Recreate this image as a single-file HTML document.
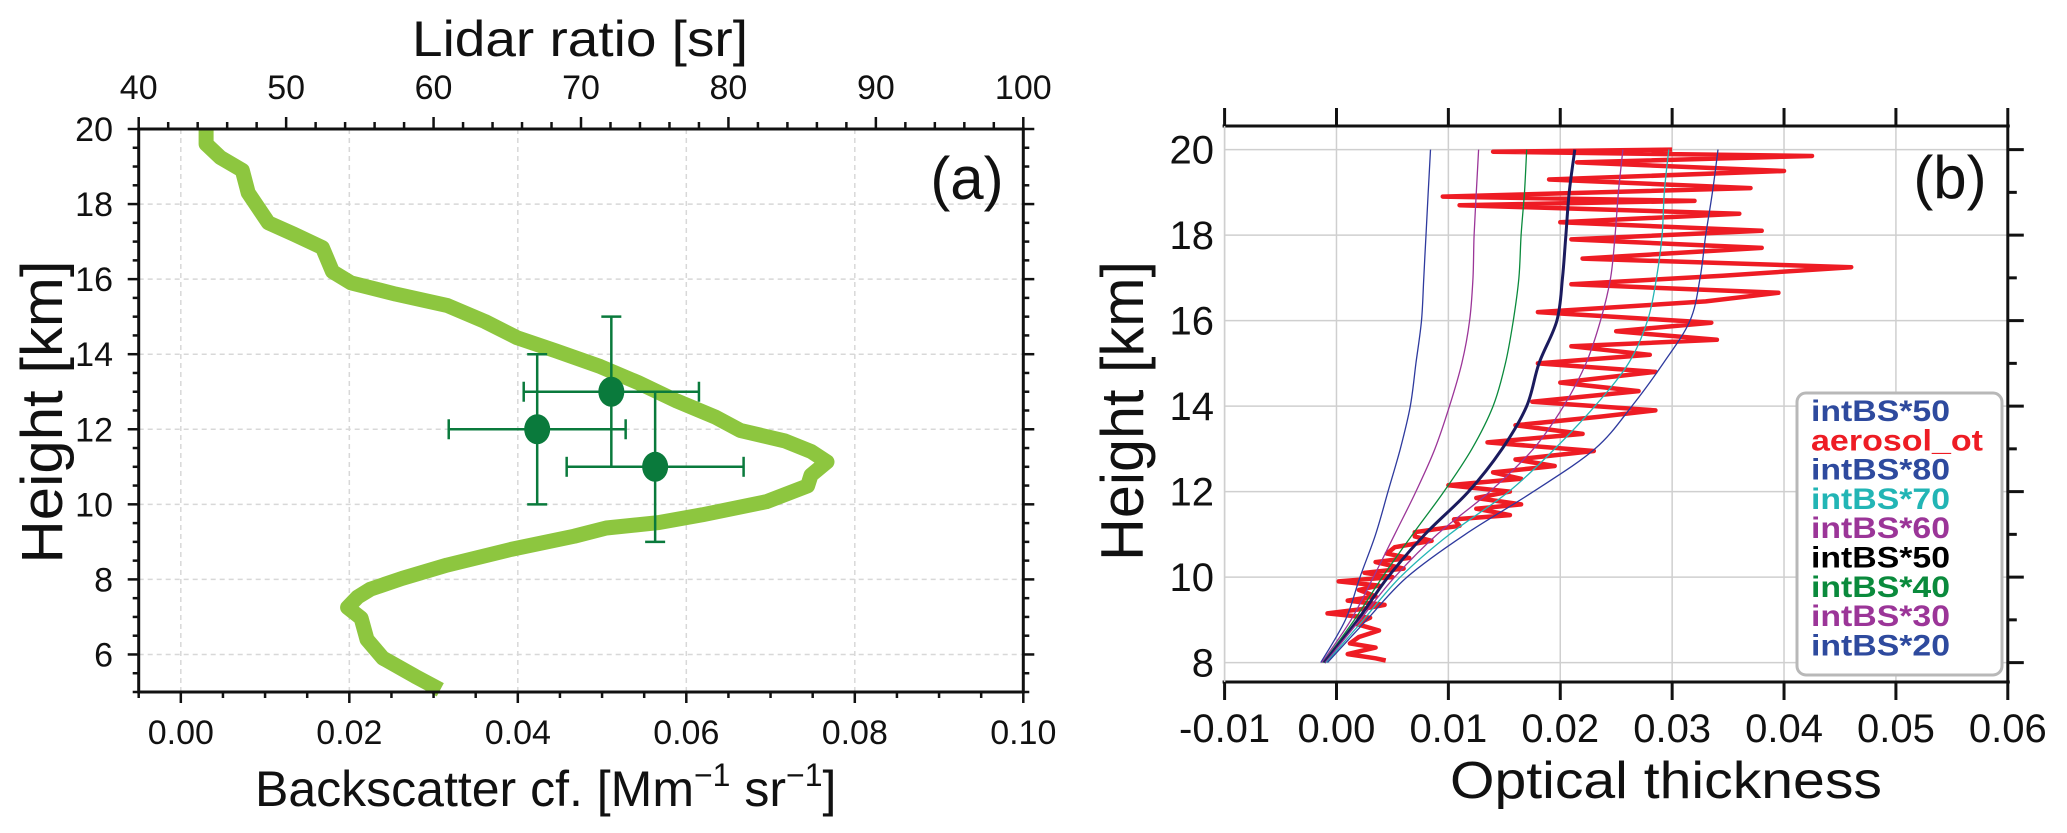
<!DOCTYPE html>
<html><head><meta charset="utf-8">
<style>
html,body{margin:0;padding:0;background:#fff;}
svg{display:block;font-family:"Liberation Sans","DejaVu Sans",sans-serif;}
</style></head>
<body>
<svg id="fig" width="2067" height="833" viewBox="0 0 2067 833" xmlns="http://www.w3.org/2000/svg">
<g id="pa"></g>
<g id="pb"></g>
</svg>
<script>
// ---------- Panel (a) data ----------
const aBsc = [0.003,0.003,0.0047,0.0073,0.008,0.0092,0.0104,0.0134,0.0168,0.018,0.0202,0.0255,0.0316,0.0361,0.0399,0.0445,0.0498,0.0543,0.0589,0.0634,0.0664,0.0717,0.0748,0.0767,0.0748,0.0744,0.0695,0.0619,0.0566,0.0505,0.0467,0.0392,0.0316,0.0263,0.0225,0.021,0.0198,0.0214,0.0221,0.024,0.0278,0.0308];
const aHgt = [20,19.6,19.24,18.9,18.3,17.9,17.5,17.2,16.84,16.2,15.9,15.6,15.3,14.87,14.44,14.09,13.67,13.24,12.75,12.33,11.97,11.69,11.41,11.13,10.78,10.49,10.07,9.72,9.51,9.37,9.15,8.8,8.38,8.03,7.74,7.53,7.25,6.97,6.4,5.9,5.42,5.06];
const ptX = [0.0423,0.0511,0.0563];
const ptY = [12,13,11];
const ptXerr = [0.0105,0.0104,0.0105];
const ptYerr = [2,2,2];
const aXTicks = [0,0.02,0.04,0.06,0.08,0.10];
const aXTickLabels = ["0.00","0.02","0.04","0.06","0.08","0.10"];
const aYTicks = [6,8,10,12,14,16,18,20];
const aTopTicks = [40,50,60,70,80,90,100];

// ---------- Panel (b) data ----------
const bH = [8,9,10,11,12,13,14,15,16,17,18,19,20];
const bs20 = [-0.0014,0.0008,0.0021,0.0035,0.0046,0.0057,0.0066,0.0071,0.0076,0.0078,0.008,0.0082,0.0084];
const bs30 = [-0.0013,0.0013,0.0033,0.0052,0.0071,0.0088,0.0101,0.0112,0.0119,0.0122,0.0123,0.0125,0.0127];
const bs40 = [-0.0012,0.0016,0.0041,0.0068,0.0096,0.0121,0.014,0.0151,0.0158,0.0163,0.0165,0.0168,0.017];
const bs50 = [-0.0011,0.0019,0.0046,0.0079,0.0118,0.0148,0.017,0.0181,0.0197,0.0202,0.0205,0.0208,0.0213];
const bs60 = [-0.001,0.0021,0.0052,0.009,0.0137,0.0176,0.0203,0.0223,0.0236,0.0245,0.0249,0.0252,0.0256];
const bs70 = [-0.0009,0.0024,0.0057,0.0101,0.0154,0.0195,0.0231,0.0261,0.0278,0.0286,0.0291,0.0293,0.0297];
const bs80 = [-0.0008,0.0027,0.0063,0.0115,0.0176,0.0231,0.0264,0.0292,0.0316,0.0325,0.033,0.0336,0.0341];
const redH = [8.05,8.1,8.2,8.35,8.45,8.6,8.75,8.9,9.05,9.15,9.25,9.35,9.45,9.55,9.7,9.8,9.9,10.0,10.1,10.2,10.35,10.45,10.55,10.7,10.85,10.95,11.05,11.2,11.35,11.45,11.6,11.7,11.85,12.0,12.15,12.3,12.45,12.6,12.75,12.95,13.15,13.35,13.55,13.75,13.9,14.1,14.35,14.55,14.8,15.0,15.2,15.4,15.55,15.75,15.95,16.2,16.45,16.65,16.85,17.05,17.25,17.45,17.7,17.9,18.1,18.3,18.5,18.7,18.8,18.9,19.1,19.3,19.5,19.7,19.85,19.95,20.0];
const redV = [0.0044,0.0035,0.001,0.0035,0.0012,0.002,0.0038,0.0018,0.003,-0.0008,0.0022,0.0043,0.001,0.0035,0.002,0.0038,0.0002,0.005,0.0025,0.006,0.0035,0.0065,0.0045,0.0052,0.0085,0.007,0.007,0.011,0.0105,0.0155,0.0125,0.0165,0.0125,0.0155,0.01,0.0165,0.014,0.0195,0.016,0.023,0.0135,0.022,0.016,0.0235,0.0285,0.0175,0.027,0.02,0.0285,0.018,0.028,0.021,0.034,0.025,0.0335,0.018,0.033,0.0395,0.021,0.0345,0.046,0.022,0.038,0.021,0.038,0.02,0.036,0.011,0.032,0.0095,0.037,0.019,0.04,0.0215,0.0425,0.014,0.03];
const bXTicks = [-0.01,0,0.01,0.02,0.03,0.04,0.05,0.06];
const bXTickLabels = ["-0.01","0.00","0.01","0.02","0.03","0.04","0.05","0.06"];
const bYTicks = [8,10,12,14,16,18,20];
const legLabels = ["intBS*50","aerosol_ot","intBS*80","intBS*70","intBS*60","intBS*50","intBS*40","intBS*30","intBS*20"];
const legColors = ["#2e4a9e","#ee1c24","#2e4a9e","#22b5b5","#9b3598","#000000","#0a8a3c","#9b3598","#2e4a9e"];

const NS = "http://www.w3.org/2000/svg";
function mk(parent, tag, attrs, text){
  const e = document.createElementNS(NS, tag);
  for (const k in attrs) e.setAttribute(k, attrs[k]);
  if (text !== undefined) e.textContent = text;
  parent.appendChild(e);
  return e;
}

// ===== Panel A =====
const pa = document.getElementById('pa');
const aL=138.7, aR=1023.3, aT=129, aB=692;
const ax = v => aL + (v - (-0.005)) / (0.105) * (aR - aL);
const ay = h => aB - (h - 5) / 15 * (aB - aT);
const ax2 = s => aL + (s - 40) / 60 * (aR - aL);

// grid
aXTicks.forEach(v=>{ const l=mk(pa,'line',{x1:ax(v),x2:ax(v),y1:aT,y2:aB,stroke:'#d8d8d8','stroke-width':1.5,'stroke-dasharray':'5,4'});
 });
aYTicks.forEach(h=>{ const l=mk(pa,'line',{x1:aL,x2:aR,y1:ay(h),y2:ay(h),stroke:'#d8d8d8','stroke-width':1.5,'stroke-dasharray':'5,4'});
 });

// curve
{
  let d = aBsc.map((v,i)=>(i?'L':'M')+ax(v).toFixed(1)+','+ay(aHgt[i]).toFixed(1)).join(' ');
  const p = mk(pa,'path',{d:d,fill:'none',stroke:'#8dc63f','stroke-width':15,'stroke-linejoin':'round','stroke-linecap':'butt'});
  
  
}
// error points
ptX.forEach((v,i)=>{
  const g = mk(pa,'g',{stroke:'#0a7a3c','stroke-width':2.5,fill:'#0a7a3c'});
  
  
  const cx=ax(v), cy=ay(ptY[i]);
  const x1=ax(v-ptXerr[i]), x2=ax(v+ptXerr[i]);
  const y1=ay(ptY[i]-ptYerr[i]), y2=ay(ptY[i]+ptYerr[i]);
  mk(g,'line',{x1:x1,x2:x2,y1:cy,y2:cy});
  mk(g,'line',{x1:x1,x2:x1,y1:cy-10,y2:cy+10});
  mk(g,'line',{x1:x2,x2:x2,y1:cy-10,y2:cy+10});
  mk(g,'line',{x1:cx,x2:cx,y1:y1,y2:y2});
  mk(g,'line',{x1:cx-10,x2:cx+10,y1:y1,y2:y1});
  mk(g,'line',{x1:cx-10,x2:cx+10,y1:y2,y2:y2});
  mk(g,'ellipse',{cx:cx,cy:cy,rx:13,ry:15,stroke:'none'});
});

// frame
{const r=mk(pa,'rect',{x:aL,y:aT,width:aR-aL,height:aB-aT,fill:'none',stroke:'#111','stroke-width':3});
 }
// ticks
const tk = mk(pa,'g',{stroke:'#111','stroke-width':2.5});
 
for(let h=5;h<=20.001;h+=0.5){ const major = Math.abs(h%2)<0.01; mk(tk,'line',{x1:aL-(major?11:6),x2:aL,y1:ay(h),y2:ay(h)}); mk(tk,'line',{x1:aR,x2:aR+(major?11:6),y1:ay(h),y2:ay(h)}); }
for(let v=-0.005;v<=0.1001;v+=0.005){ const major = Math.abs((v*100)%2)<0.01 || Math.abs((v*100)%2-2)<0.01; mk(tk,'line',{x1:ax(v),x2:ax(v),y1:aB,y2:aB+(major?11:6)}); }
for(let s=40;s<=100;s+=2){ const major = s%10===0; mk(tk,'line',{x1:ax2(s),x2:ax2(s),y1:aT-(major?12:7),y2:aT}); }
// labels
aYTicks.forEach(h=>{const t=mk(pa,'text',{x:113,y:ay(h)+12,'font-size':34,'text-anchor':'end',fill:'#111'},String(h));
 });
aXTicks.forEach((v,i)=>{const t=mk(pa,'text',{x:ax(v),y:744,'font-size':34,'text-anchor':'middle',fill:'#111'},aXTickLabels[i]);
 });
aTopTicks.forEach(s=>{const t=mk(pa,'text',{x:ax2(s),y:99,'font-size':34,'text-anchor':'middle',fill:'#111'},String(s));
 });
{
 let t=mk(pa,'text',{x:0,y:0,'font-size':58,'text-anchor':'middle',fill:'#111',transform:'translate(62,412) rotate(-90)',textLength:303,lengthAdjust:'spacingAndGlyphs'},'Height [km]');
  
 t=mk(pa,'text',{x:580,y:56,'font-size':50,'text-anchor':'middle',fill:'#111',textLength:336,lengthAdjust:'spacingAndGlyphs'},'Lidar ratio [sr]');
  
 t=mk(pa,'text',{x:255,y:806,'font-size':50,fill:'#111'});
  
 t.innerHTML='Backscatter cf. [Mm<tspan dy="-20" font-size="32">−1</tspan><tspan dy="20"> sr</tspan><tspan dy="-20" font-size="32">−1</tspan><tspan dy="20">]</tspan>';
 t=mk(pa,'text',{x:967,y:199,'font-size':60,'text-anchor':'middle',fill:'#111'},'(a)');
  
}

// ===== Panel B =====
const pb = document.getElementById('pb');
const bL=1224.6, bR=2007.8, bT=126, bB=682;
const bx = v => bL + (v + 0.01) / 0.07 * (bR - bL);
const by = h => 662.6 - (h - 8) * 42.75;
bXTicks.forEach(v=>{const l=mk(pb,'line',{x1:bx(v),x2:bx(v),y1:bT,y2:bB,stroke:'#cfcfcf','stroke-width':1.5});
 });
bYTicks.forEach(h=>{const l=mk(pb,'line',{x1:bL,x2:bR,y1:by(h),y2:by(h),stroke:'#cfcfcf','stroke-width':1.5});
 });

function smoothPath(vals, hs){
  const pts = vals.map((v,i)=>[bx(v),by(hs[i])]);
  let d='M'+pts[0][0].toFixed(1)+','+pts[0][1].toFixed(1);
  for(let i=0;i<pts.length-1;i++){
    const p0=pts[Math.max(0,i-1)], p1=pts[i], p2=pts[i+1], p3=pts[Math.min(pts.length-1,i+2)];
    const c1=[p1[0]+(p2[0]-p0[0])/6, p1[1]+(p2[1]-p0[1])/6];
    const c2=[p2[0]-(p3[0]-p1[0])/6, p2[1]-(p3[1]-p1[1])/6];
    d+=' C'+c1.map(n=>n.toFixed(1)).join(',')+' '+c2.map(n=>n.toFixed(1)).join(',')+' '+p2[0].toFixed(1)+','+p2[1].toFixed(1);
  }
  return d;
}
// red aerosol line (drawn under? it overlays most curves) 
{
  const d = redV.map((v,i)=>(i?'L':'M')+bx(v).toFixed(1)+','+by(redH[i]).toFixed(1)).join(' ');
  const p=mk(pb,'path',{d:d,fill:'none',stroke:'#ee1c24','stroke-width':4.5,'stroke-linejoin':'round'});
   
}
const series = [[bs20,'#2e3a9e',1.3,'intbs-20-line'],[bs30,'#9b3598',1.3,'intbs-30-line'],[bs40,'#0a8a3c',1.3,'intbs-40-line'],[bs50,'#1b1b5e',3,'intbs-50-line'],[bs60,'#9b3598',1.3,'intbs-60-line'],[bs70,'#22b5b5',1.3,'intbs-70-line'],[bs80,'#2e3a9e',1.3,'intbs-80-line']];
series.forEach(s=>{
  const p=mk(pb,'path',{d:smoothPath(s[0],bH),fill:'none',stroke:s[1],'stroke-width':s[2]});
  
  
});
// frame: top and bottom thick lines, right spine
{
 const g=mk(pb,'g',{stroke:'#111','stroke-width':3});
  
 mk(g,'line',{x1:bL-2,x2:bR+2,y1:bT,y2:bT});
 mk(g,'line',{x1:bL-2,x2:bR+2,y1:bB,y2:bB});
 mk(g,'line',{x1:bR,x2:bR,y1:bT,y2:bB});
 mk(g,'line',{x1:bL,x2:bL,y1:bT,y2:bB,'stroke-width':1.5,stroke:'#cfcfcf'});
 bXTicks.forEach(v=>{ mk(g,'line',{x1:bx(v),x2:bx(v),y1:bT-18,y2:bT}); mk(g,'line',{x1:bx(v),x2:bx(v),y1:bB,y2:bB+18}); });
 for(let h=8;h<=20;h++){ mk(g,'line',{x1:bR,x2:bR+(h%2===0?16:9),y1:by(h),y2:by(h)}); }
}
bXTicks.forEach((v,i)=>{const t=mk(pb,'text',{x:bx(v),y:742,'font-size':40,'text-anchor':'middle',fill:'#111'},bXTickLabels[i]);
 });
bYTicks.forEach(h=>{const t=mk(pb,'text',{x:1214,y:by(h)+14,'font-size':40,'text-anchor':'end',fill:'#111'},String(h));
 });
{
 let t=mk(pb,'text',{x:0,y:0,'font-size':60,'text-anchor':'middle',fill:'#111',transform:'translate(1143,411) rotate(-90)',textLength:300,lengthAdjust:'spacingAndGlyphs'},'Height [km]');
  
 t=mk(pb,'text',{x:1666,y:798,'font-size':52,'text-anchor':'middle',fill:'#111',textLength:432,lengthAdjust:'spacingAndGlyphs'},'Optical thickness');
  
 t=mk(pb,'text',{x:1950,y:198,'font-size':60,'text-anchor':'middle',fill:'#111'},'(b)');
  
}
// legend
{
 const g=mk(pb,'g',{});
  
 mk(g,'rect',{x:1797,y:393,width:205,height:282,rx:9,fill:'#fff',stroke:'#b8b8b8','stroke-width':3});
 legLabels.forEach((lab,i)=>{
   const t=mk(g,'text',{x:1811,y:421+i*29.3,'font-size':30,'font-weight':'bold',fill:legColors[i],textLength:(lab==='aerosol_ot'?172:139),lengthAdjust:'spacingAndGlyphs'},lab);
   
   
 });
}
</script>
</body></html>
